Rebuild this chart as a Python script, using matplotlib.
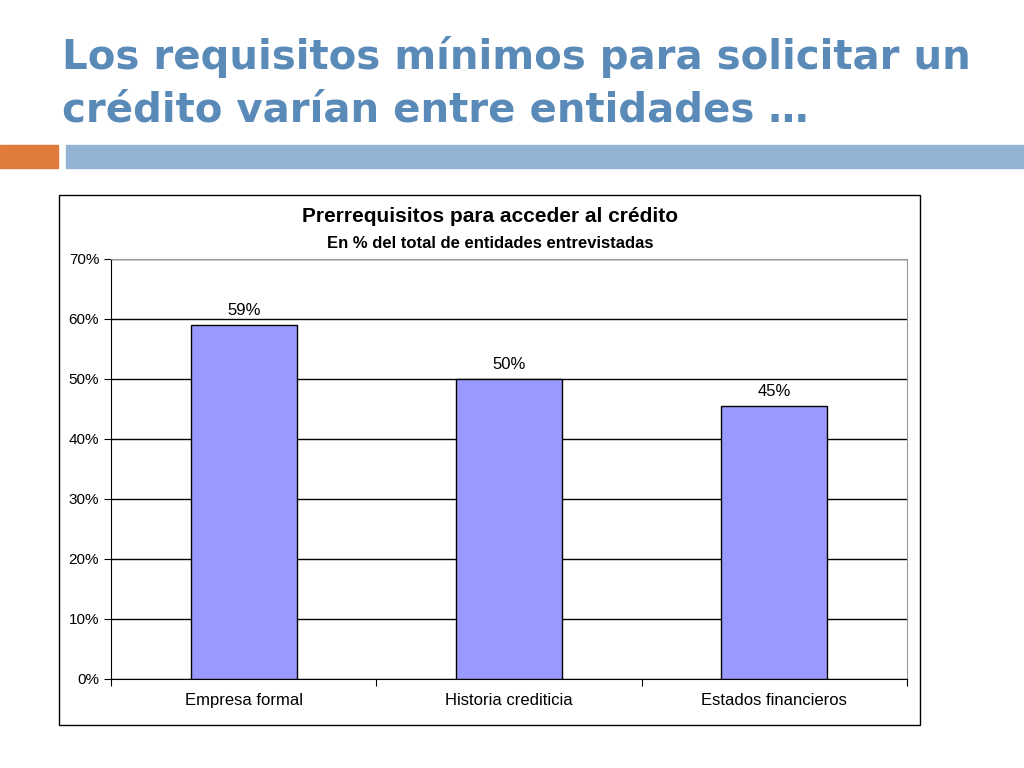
import matplotlib.pyplot as plt
from matplotlib.patches import Rectangle

categories = ["Empresa formal", "Historia crediticia", "Estados financieros"]
values = [0.59, 0.50, 0.455]
value_labels = ["59%", "50%", "45%"]
y_ticks = [0, 0.1, 0.2, 0.3, 0.4, 0.5, 0.6, 0.7]
y_tick_labels = ["0%", "10%", "20%", "30%", "40%", "50%", "60%", "70%"]

W, H = 1024, 768
fig = plt.figure(figsize=(W / 100, H / 100), dpi=100)
plt.rcParams["font.family"] = "Liberation Sans"

# slide title
title_color = "#5A8AB8"
fig.text(62 / W, 1 - 57 / H, "Los requisitos mínimos para solicitar un",
         fontsize=29, fontweight="bold", color=title_color, va="center",
         family="DejaVu Sans")
fig.text(62 / W, 1 - 110 / H, "crédito varían entre entidades …",
         fontsize=29, fontweight="bold", color=title_color, va="center",
         family="DejaVu Sans")

# decorative bars under title
fig.patches.append(Rectangle((0, 1 - 168 / H), 58 / W, 23 / H,
                             transform=fig.transFigure, color="#E07B3C"))
fig.patches.append(Rectangle((66 / W, 1 - 168 / H), 1 - 66 / W, 23 / H,
                             transform=fig.transFigure, color="#93B4D4"))

# chart frame
fig.patches.append(Rectangle((59 / W, 1 - 725 / H), 861 / W, 530 / H,
                             transform=fig.transFigure, fill=False,
                             edgecolor="black", linewidth=1))

fig.text(490 / W, 1 - 217 / H, "Prerrequisitos para acceder al crédito",
         fontsize=15, fontweight="bold", ha="center", va="center")
fig.text(490 / W, 1 - 244 / H, "En % del total de entidades entrevistadas",
         fontsize=12, fontweight="bold", ha="center", va="center")

ax = fig.add_axes([111 / W, 1 - 679 / H, 796 / W, 420 / H])
x = range(len(categories))
ax.bar(x, values, width=0.4, color="#9999FF", edgecolor="black",
       linewidth=1, zorder=3)
for xi, v, lab in zip(x, values, value_labels):
    ax.text(xi, v + 0.012, lab, ha="center", va="bottom", fontsize=12)

ax.set_xlim(-0.5, 2.5)
ax.set_ylim(0, 0.7)
ax.set_yticks(y_ticks)
ax.set_yticklabels(y_tick_labels, fontsize=11)
ax.set_xticks([-0.5, 0.5, 1.5, 2.5], minor=False)
ax.set_xticklabels([])
ax.set_xticks(list(x), minor=True)
ax.set_xticklabels(categories, minor=True, fontsize=12)
ax.tick_params(axis="x", which="minor", length=0, pad=10)
ax.tick_params(axis="x", which="major", length=5, direction="out")
ax.tick_params(axis="y", length=5, direction="out")
ax.grid(axis="y", color="black", linewidth=1, zorder=0)
for s in ["top", "right"]:
    ax.spines[s].set_color("#999999")
ax.spines["left"].set_color("black")
ax.spines["bottom"].set_color("black")

fig.savefig("out.png", dpi=100)
